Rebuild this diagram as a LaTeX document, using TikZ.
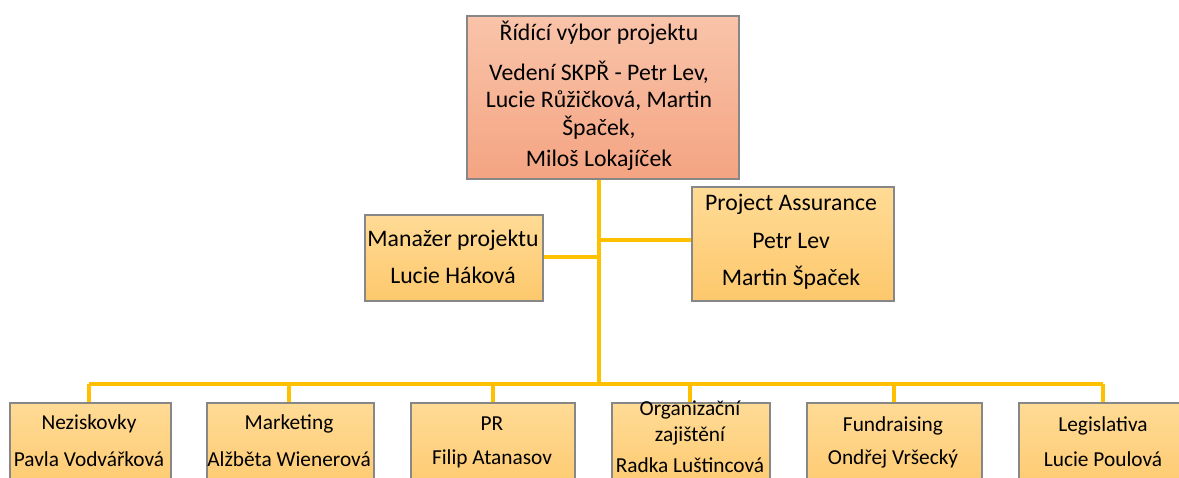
\documentclass[tikz,border=0pt]{standalone}
\usepackage{fontspec}
\setmainfont{Carlito}
\definecolor{salmonT}{RGB}{249,196,170}
\definecolor{salmonB}{RGB}{244,164,130}
\definecolor{goldT}{RGB}{255,219,150}
\definecolor{goldB}{RGB}{253,200,108}
\definecolor{boxline}{RGB}{135,135,135}
\definecolor{conn}{RGB}{255,192,0}
\tikzset{
  obox/.style={draw=boxline, line width=1.2pt, rectangle, inner sep=0pt, align=center, anchor=north west},
  topbox/.style={obox, top color=salmonT, bottom color=salmonB},
  ybox/.style={obox, top color=goldT, bottom color=goldB},
  link/.style={draw=conn, line width=2.4pt},
  bigtxt/.style={font=\fontsize{17.8}{20.5}\selectfont},
  smtxt/.style={font=\fontsize{16}{19}\selectfont},
}
\begin{document}
\begin{tikzpicture}[x=0.75pt,y=-0.75pt]
\clip (0,0) rectangle (1179,478);
\fill[white] (0,0) rectangle (1179,478);
% boxes
\node[topbox, minimum width=272*0.75pt, minimum height=163*0.75pt] (top) at (466,15) {};
\node[ybox, minimum width=178*0.75pt, minimum height=86*0.75pt] (mgr) at (364,214) {};
\node[ybox, minimum width=202*0.75pt, minimum height=114*0.75pt] (pa) at (691,186) {};
\node[ybox, minimum width=161*0.75pt, minimum height=95*0.75pt] (b1) at (9,402) {};
\node[ybox, minimum width=167*0.75pt, minimum height=95*0.75pt] (b2) at (206,402) {};
\node[ybox, minimum width=164*0.75pt, minimum height=95*0.75pt] (b3) at (410,402) {};
\node[ybox, minimum width=158*0.75pt, minimum height=95*0.75pt] (b4) at (611,402) {};
\node[ybox, minimum width=175*0.75pt, minimum height=95*0.75pt] (b5) at (806,402) {};
\node[ybox, minimum width=165*0.75pt, minimum height=95*0.75pt] (b6) at (1018,402) {};
% connectors
\coordinate (bus) at (599,384);
\coordinate (jm) at (599,257);
\coordinate (jp) at (599,240);
\draw[link] (top.south -| bus) -- (bus);
\draw[link] (mgr.east |- jm) -- (jm);
\draw[link] (jp) -- (pa.west |- jp);
\draw[link] (89,384) -- (1103,384);
\foreach \n/\x in {b1/89,b2/289,b3/493,b4/690,b5/894,b6/1103}{
  \draw[link] (\x,384) -- (\n.north -| {(\x,0)});
}
% texts
\node[bigtxt] (t1) at (599,33) {Řídící výbor projektu};
\node[bigtxt, align=center] (t2) at (599,100) {Vedení SKPŘ - Petr Lev,\\Lucie Růžičková, Martin\\Špaček,};
\node[bigtxt] (t3) at (599,160) {Miloš Lokajíček};
\node[bigtxt] (m1) at (453,240) {Manažer projektu};
\node[bigtxt] (m2) at (453,275) {Lucie Háková};
\node[bigtxt] (p1) at (791,204) {Project Assurance};
\node[bigtxt] (p2) at (791,241) {Petr Lev};
\node[bigtxt] (p3) at (791,278) {Martin Špaček};
\node[smtxt] (n1a) at (89,424) {Neziskovky};
\node[smtxt] (n1b) at (89,459) {Pavla Vodvářková};
\node[smtxt] (n2a) at (289,424) {Marketing};
\node[smtxt] (n2b) at (289,459) {Alžběta Wienerová};
\node[smtxt] (n3a) at (492,424) {PR};
\node[smtxt] (n3b) at (492,459) {Filip Atanasov};
\node[smtxt, align=center] (n4a) at (690,423) {Organizační\\zajištění};
\node[smtxt] (n4b) at (690,465) {Radka Luštincová};
\node[smtxt] (n5a) at (893,426) {Fundraising};
\node[smtxt] (n5b) at (893,459) {Ondřej Vršecký};
\node[smtxt] (n6a) at (1103,426) {Legislativa};
\node[smtxt] (n6b) at (1103,459) {Lucie Poulová};
\end{tikzpicture}
\end{document}
